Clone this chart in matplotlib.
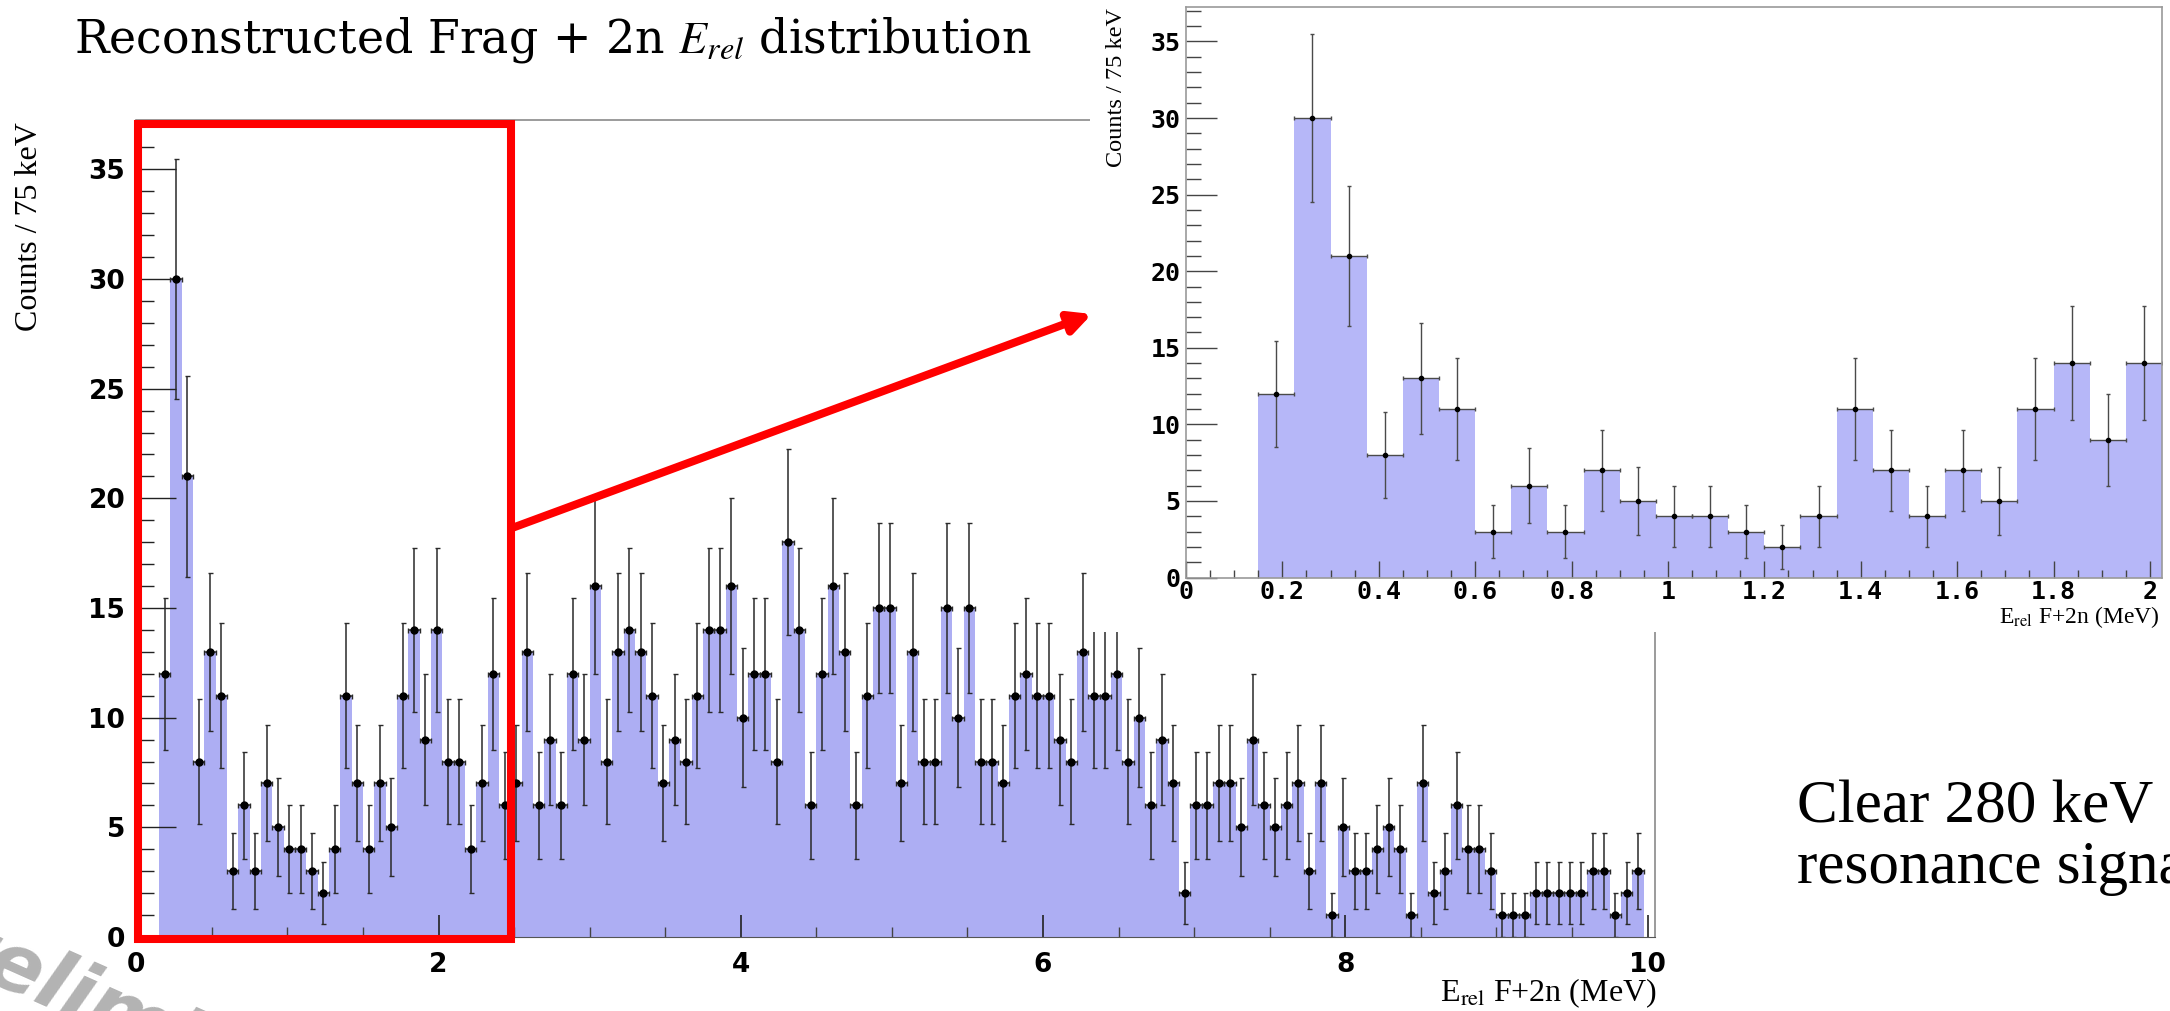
"""Frag + 2n relative-energy histogram slide, with a zoomed inset of the low-energy region."""

import matplotlib

matplotlib.use("Agg")

import matplotlib.pyplot as plt  # noqa: E402
import numpy as np  # noqa: E402
from matplotlib.patches import FancyArrowPatch, Rectangle  # noqa: E402
from matplotlib.ticker import FuncFormatter, MultipleLocator  # noqa: E402

plt.rcParams["mathtext.fontset"] = "stix"

# 75 keV bins, first filled bin starts at 0.15 MeV
BIN_WIDTH = 0.075
FIRST_EDGE = 0.15
counts = [
    12, 30, 21, 8, 13, 11, 3, 6, 3, 7, 5, 4, 4, 3, 2, 4, 11, 7, 4, 7, 5, 11, 14, 9, 14,
    8, 8, 4, 7, 12, 6, 7, 13, 6, 9, 6, 12, 9, 16, 8, 13, 14, 13, 11, 7,
    9, 8, 11, 14, 14, 16, 10, 12, 12, 8, 18, 14, 6, 12, 16, 13, 6, 11, 15, 15, 7, 13, 8,
    8, 15, 10, 15, 8, 8, 7, 11, 12, 11, 11, 9, 8, 13, 11, 11, 12, 8, 10, 6, 9, 7, 2,
    6, 6, 7, 7, 5, 9, 6, 5, 6, 7, 3, 7, 1, 5, 3, 3, 4, 5, 4, 1, 7, 2, 3,
    6, 4, 4, 3, 1, 1, 1, 2, 2, 2, 2, 2, 3, 3, 1, 2, 3,
]
INSET_BINS = 25  # bins shown in the zoom (0.15 - 2.025 MeV)

MAIN_XTICKS = [0, 2, 4, 6, 8, 10]
INSET_XTICKS = [0, 0.2, 0.4, 0.6, 0.8, 1, 1.2, 1.4, 1.6, 1.8, 2]
YTICKS = [0, 5, 10, 15, 20, 25, 30, 35]

TITLE = "Reconstructed Frag + 2n $E_{rel}$ distribution"
YLABEL = "Counts / 75 keV"
XLABEL = r"E$_{\mathrm{rel}}$ F+2n (MeV)"
NOTE = ["Clear 280 keV", "resonance signal"]

BAR_MAIN = "#adaef3"
BAR_INSET = "#b6b7f8"
SERIF = "Liberation Serif"

counts = np.array(counts, dtype=float)
lefts = FIRST_EDGE + BIN_WIDTH * np.arange(len(counts))
centers = lefts + BIN_WIDTH / 2
errs = np.sqrt(counts)

fig = plt.figure(figsize=(21.7, 10.11), dpi=100)

# ---- main histogram ----
ax = fig.add_axes([0.0628, 0.0732, 0.6999, 0.8081], zorder=0)
ax.bar(lefts, counts, width=BIN_WIDTH, align="edge", color=BAR_MAIN, linewidth=0)
ax.errorbar(centers, counts, xerr=BIN_WIDTH / 2, yerr=errs, fmt="o", ms=5,
            color="black", ecolor="#2a2a2a", elinewidth=1.1, capsize=1.8, capthick=1)
ax.set_xlim(0, 10.05)
ax.set_ylim(0, 37.25)
ax.set_xticks(MAIN_XTICKS)
ax.set_yticks(YTICKS)
ax.xaxis.set_minor_locator(MultipleLocator(0.5))
ax.yaxis.set_minor_locator(MultipleLocator(1))
ax.tick_params(axis="y", which="major", direction="in", length=29, width=1, pad=8,
               labelsize=19, colors="#222222", labelcolor="black")
ax.tick_params(axis="y", which="minor", direction="in", length=13, width=1, colors="#222222")
ax.tick_params(axis="x", which="major", direction="in", length=16, width=1.2, pad=11,
               labelsize=19, colors="#222222", labelcolor="black")
ax.tick_params(axis="x", which="minor", direction="in", length=7, width=1, colors="#444444")
for lab in ax.get_xticklabels() + ax.get_yticklabels():
    lab.set_fontweight("bold")
for side in ("top", "right"):
    ax.spines[side].set_color("#8a8a8a")
    ax.spines[side].set_linewidth(1.2)
ax.spines["bottom"].set_color("#555555")
ax.spines["left"].set_color("#555555")

fig.text(0.0138, 0.8793, YLABEL, rotation=90, ha="center", va="top",
         fontsize=23, family=SERIF)
fig.text(0.7636, 0.0099, XLABEL, ha="right", va="baseline", fontsize=23, family=SERIF)

# ---- white backdrop of the pasted zoom picture ----
fig.patches.append(Rectangle((0.5023, 0.3749), 0.4977, 0.6251, transform=fig.transFigure,
                             facecolor="white", edgecolor="none", zorder=1))

# ---- inset: low-energy zoom ----
ins = fig.add_axes([0.5465, 0.4287, 0.4498, 0.5644], zorder=2)
ins.bar(lefts[:INSET_BINS], counts[:INSET_BINS], width=BIN_WIDTH, align="edge",
        color=BAR_INSET, linewidth=0)
ins.errorbar(centers[:INSET_BINS], counts[:INSET_BINS], xerr=BIN_WIDTH / 2,
             yerr=errs[:INSET_BINS], fmt="o", ms=3, color="black", ecolor="#4a4a4a",
             elinewidth=1, capsize=1.5, capthick=1)
ins.set_xlim(0, 2.025)
ins.set_ylim(0, 37.25)
ins.set_xticks(INSET_XTICKS)
ins.set_yticks(YTICKS)
ins.xaxis.set_major_formatter(FuncFormatter(lambda v, _: f"{v:g}"))
ins.xaxis.set_minor_locator(MultipleLocator(0.05))
ins.yaxis.set_minor_locator(MultipleLocator(1))
ins.tick_params(axis="y", which="major", direction="in", length=22, width=1, pad=4,
                labelsize=18, colors="#444444", labelcolor="black")
ins.tick_params(axis="y", which="minor", direction="in", length=11, width=1, colors="#444444")
ins.tick_params(axis="x", which="major", direction="in", length=12, width=1, pad=2,
                labelsize=18, colors="#444444", labelcolor="black")
ins.tick_params(axis="x", which="minor", direction="in", length=6, width=1, colors="#444444")
for lab in ins.get_xticklabels() + ins.get_yticklabels():
    lab.set_family("DejaVu Sans Mono")
    lab.set_fontweight("bold")
for sp in ins.spines.values():
    sp.set_color("#9a9a9a")
    sp.set_linewidth(1.2)

fig.text(0.5147, 0.992, YLABEL, rotation=90, ha="center", va="top",
         fontsize=17.5, family=SERIF, zorder=3)
fig.text(0.9954, 0.3835, XLABEL, ha="right", va="baseline", fontsize=17, family=SERIF,
         zorder=3)

# ---- slide overlays ----
fig.patches.append(Rectangle((0.0634, 0.0712), 0.1721, 0.8057, transform=fig.transFigure,
                             fill=False, edgecolor="#ff0000", linewidth=5.8, zorder=4))
fig.patches.append(FancyArrowPatch((0.2359, 0.4777), (0.5032, 0.6894),
                                   transform=fig.transFigure, arrowstyle="-|>",
                                   mutation_scale=32, color="#ff0000", linewidth=5.8,
                                   shrinkA=0, shrinkB=0, zorder=4))

fig.text(0.034, 0.9476, TITLE, ha="left", va="baseline", fontsize=33, family="DejaVu Serif")
fig.text(0.8281, 0.187, NOTE[0], ha="left", va="baseline", fontsize=44, family=SERIF)
fig.text(0.8281, 0.1266, NOTE[1], ha="left", va="baseline", fontsize=44, family=SERIF)
fig.text(-0.049, 0.071, "Preliminary", rotation=-24, rotation_mode="anchor", ha="left",
         va="baseline", fontsize=58, color="#b3b3b3", fontweight="bold", style="italic",
         family="DejaVu Sans")

fig.savefig("out.png", dpi=100)
